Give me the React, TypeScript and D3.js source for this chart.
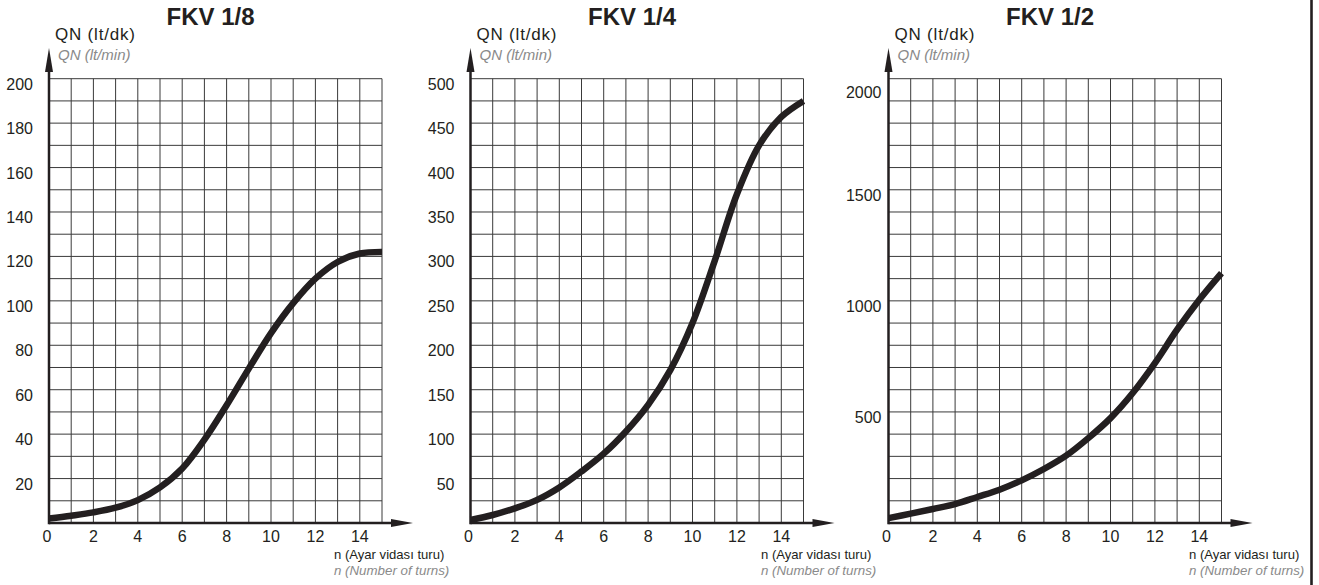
import React from 'react';
import * as d3 from 'd3';

const turns = [0, 1, 2, 3, 4, 5, 6, 7, 8, 9, 10, 11, 12, 13, 14, 15];
const qnFkv18 = [2, 3.3, 4.8, 6.9, 10.3, 16, 24.5, 37.5, 53, 69.5, 85.5, 99, 110, 117.5, 121.3, 122];
const qnFkv14 = [3.4, 9, 16.5, 26, 40, 58, 78, 103, 133, 172, 225, 295, 370, 425, 457, 475];
const qnFkv12 = [22, 42, 63, 85, 117, 150, 192, 243, 303, 382, 472, 585, 720, 870, 1005, 1125];

const xTickLabels = [0, 2, 4, 6, 8, 10, 12, 14];
const yTicksFkv18 = [20, 40, 60, 80, 100, 120, 140, 160, 180, 200];
const yTicksFkv14 = [50, 100, 150, 200, 250, 300, 350, 400, 450, 500];
const yTicksFkv12 = [500, 1000, 1500, 2000];

const titles = ['FKV 1/8', 'FKV 1/4', 'FKV 1/2'];
const yMaxes = [200, 500, 2000];
const yGridSteps = [10, 25, 100];

const yLabelMain = 'QN (lt/dk)';
const yLabelSub = 'QN (lt/min)';
const xLabelMain = 'n (Ayar vidası turu)';
const xLabelSub = 'n (Number of turns)';

const FONT = '"Liberation Sans", Arial, Helvetica, sans-serif';
const INK = '#231f20';
const GRAY = '#8a8a8a';
const GRID = '#3a3a3a';
const TOP = 78.7;
const BOTTOM = 523;
const PW = 333;

type PanelProps = {
  x0: number;
  title: string;
  values: number[];
  yMax: number;
  step: number;
  ticks: number[];
  labelGap: number;
  xLabelX: number;
  topExtraDy: number;
};

function Panel({ x0, title, values, yMax, step, ticks, labelGap, xLabelX, topExtraDy }: PanelProps) {
  const x = d3.scaleLinear().domain([0, 15]).range([x0, x0 + PW]);
  const y = d3.scaleLinear().domain([0, yMax]).range([BOTTOM, TOP]);
  const gridX = d3.range(1, 16);
  const gridY = d3.range(step, yMax + step / 2, step);
  const line = d3
    .line<number>()
    .x((_, i) => x(turns[i]))
    .y((d) => y(d))
    .curve(d3.curveCatmullRom.alpha(0.5));

  return (
    <g>
      <text x={x0 + PW / 2 - 5} y={25} textAnchor="middle" fontFamily={FONT} fontWeight="bold" fontSize={24} fill={INK}>
        {title}
      </text>
      <text x={x0 + 6} y={40} fontFamily={FONT} fontSize={17} letterSpacing={0.8} fill={INK}>
        {yLabelMain}
      </text>
      <text x={x0 + 9} y={60} fontFamily={FONT} fontStyle="italic" fontSize={15} fill={GRAY}>
        {yLabelSub}
      </text>
      {gridX.map((g) => (
        <line key={'vx' + g} x1={x(g)} x2={x(g)} y1={TOP} y2={BOTTOM} stroke={GRID} strokeWidth={1} />
      ))}
      {gridY.map((g) => (
        <line key={'hy' + g} x1={x0} x2={x0 + PW} y1={y(g)} y2={y(g)} stroke={GRID} strokeWidth={1} />
      ))}
      {ticks.map((t, i) => (
        <text
          key={'yt' + t}
          x={x0 - labelGap}
          y={y(t) + 11 + (i === ticks.length - 1 ? topExtraDy : 0)}
          textAnchor="end"
          fontFamily={FONT}
          fontSize={16}
          fill={INK}
        >
          {t}
        </text>
      ))}
      {xTickLabels.map((t) => (
        <text key={'xt' + t} x={x(t) - (t === 0 ? 2 : 0)} y={542} textAnchor="middle" fontFamily={FONT} fontSize={16} fill={INK}>
          {t}
        </text>
      ))}
      <path d={line(values) || ''} fill="none" stroke={INK} strokeWidth={6.5} strokeLinejoin="round" />
      <line x1={x0} x2={x0} y1={BOTTOM + 1.2} y2={72} stroke={INK} strokeWidth={2.5} />
      <polygon points={`${x0 - 4},72 ${x0},48 ${x0 + 4},72`} fill={INK} />
      <line x1={x0} x2={x0 + PW + 10} y1={BOTTOM} y2={BOTTOM} stroke={INK} strokeWidth={2.5} />
      <polygon points={`${x0 + PW + 9},${BOTTOM - 4} ${x0 + PW + 31},${BOTTOM} ${x0 + PW + 9},${BOTTOM + 4}`} fill={INK} />
      <text x={xLabelX} y={559} fontFamily={FONT} fontSize={13.1} fill={INK}>
        {xLabelMain}
      </text>
      <text x={xLabelX} y={575} fontFamily={FONT} fontStyle="italic" fontSize={13.3} fill={GRAY}>
        {xLabelSub}
      </text>
    </g>
  );
}

export default function App() {
  const x0s = [49, 470.5, 888.5];
  const valueSets = [qnFkv18, qnFkv14, qnFkv12];
  const tickSets = [yTicksFkv18, yTicksFkv14, yTicksFkv12];
  const labelGaps = [16, 16, 7];
  const xLabelXs = [334, 761, 1189];
  const topDys = [0, 0, 8];
  return (
    <svg
      width={1319}
      height={585}
      viewBox="0 0 1319 585"
      style={{ position: 'absolute', left: 0, top: 0, background: '#fff' }}
    >
      <rect x={0} y={0} width={1319} height={585} fill="#fff" />
      {titles.map((t, i) => (
        <Panel
          key={t}
          x0={x0s[i]}
          title={t}
          values={valueSets[i]}
          yMax={yMaxes[i]}
          step={yGridSteps[i]}
          ticks={tickSets[i]}
          labelGap={labelGaps[i]}
          xLabelX={xLabelXs[i]}
          topExtraDy={topDys[i]}
        />
      ))}
      <line x1={1311.5} x2={1311.5} y1={0} y2={585} stroke={INK} strokeWidth={2.6} />
    </svg>
  );
}
